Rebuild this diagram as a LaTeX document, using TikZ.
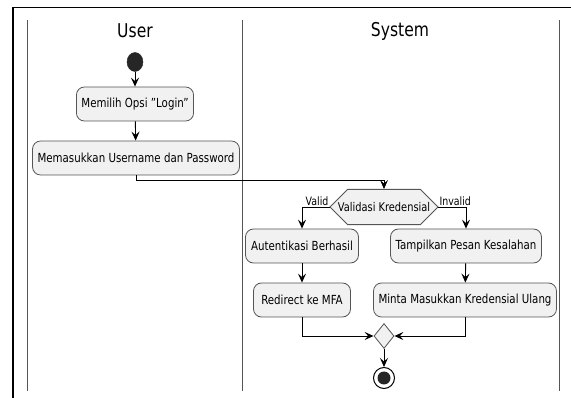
\documentclass[tikz,border=0pt]{standalone}
\usepackage{fontspec}
\setmainfont[FakeStretch=0.82]{DejaVu Sans}
\usetikzlibrary{arrows.meta,shapes.misc,shapes.geometric}
\definecolor{boxfill}{HTML}{F1F1F1}
\definecolor{boxdraw}{HTML}{555555}
\definecolor{lanecol}{HTML}{555555}
\tikzset{
  act/.style={draw=boxdraw,fill=boxfill,rounded corners=8pt,line width=0.8pt,minimum height=34pt,inner xsep=5pt,font=\fontsize{12.5}{14}\selectfont,text=black},
  flow/.style={draw=black,line width=0.9pt,-{Stealth[length=9pt,width=8pt,inset=3.5pt]}},
  lane/.style={draw=lanecol,line width=1pt},
  lbl/.style={font=\fontsize{11.5}{13}\selectfont,inner sep=1pt},
  title/.style={font=\fontsize{19}{22}\selectfont}
}
\begin{document}
\begin{tikzpicture}[x=1pt,y=-1pt]
\useasboundingbox (0,0) rectangle (571,398);
\fill[white] (0,0) rectangle (571,398);
% outer frame
\draw[line width=1.6pt] (13,398) -- (13,7.5) -- (571,7.5);
% lanes
\draw[lane] (27,20) -- (27,391);
\draw[lane] (242,20) -- (242,391);
\draw[lane] (559,20) -- (559,391);
\node[title] (tu) at (135,31) {User};
\node[title] (ts) at (400,31) {System};
% start
\node[ellipse,fill=black!85,draw=black!85,minimum width=16pt,minimum height=19pt,inner sep=0pt] (start) at (135,62) {};
\node[act,minimum width=116pt] (a1) at (135,104) {Memilih Opsi \symbol{34}Login\symbol{34}};
\node[act,minimum width=206pt] (a2) at (136,158) {Memasukkan Username dan Password};
\node[chamfered rectangle,chamfered rectangle xsep=10pt,chamfered rectangle ysep=12pt,draw=boxdraw,fill=boxfill,line width=0.8pt,minimum width=108pt,minimum height=24pt,inner sep=1pt,font=\fontsize{12}{13}\selectfont] (d1) at (384,207) {Validasi Kredensial};
\node[act,minimum width=113pt] (b1) at (302,246) {Autentikasi Berhasil};
\node[act,minimum width=97pt] (b2) at (302,300) {Redirect ke MFA};
\node[act,minimum width=151pt] (c1) at (466,246) {Tampilkan Pesan Kesalahan};
\node[act,minimum width=180pt] (c2) at (465,300) {Minta Masukkan Kredensial Ulang};
\node[diamond,draw=boxdraw,fill=boxfill,line width=0.8pt,minimum width=20pt,minimum height=25pt,inner sep=0pt] (m) at (384,336) {};
\node[circle,draw=black,line width=1pt,minimum size=21pt,inner sep=0pt] (end) at (384,378) {};
\fill[black!85] (end.center) circle (6.5pt);
% flows
\draw[flow] (start) -- (a1);
\draw[flow] (a1) -- (a2);
\draw[flow] (a2.south) -- ++(0,5) -| (d1.north);
\draw[flow] (d1.west) -| (b1.north);
\draw[flow] (d1.east) -| (c1.north);
\node[lbl,anchor=south east] (lv) at ([xshift=0pt,yshift=0pt]d1.west) {Valid};
\node[lbl,anchor=south west] (li) at ([xshift=0pt]d1.east) {Invalid};
\draw[flow] (b1) -- (b2);
\draw[flow] (c1) -- (c2);
\draw[flow] (b2.south) |- (m.west);
\draw[flow] (c2.south) |- (m.east);
\draw[flow] (m) -- (end);
\end{tikzpicture}
\end{document}
